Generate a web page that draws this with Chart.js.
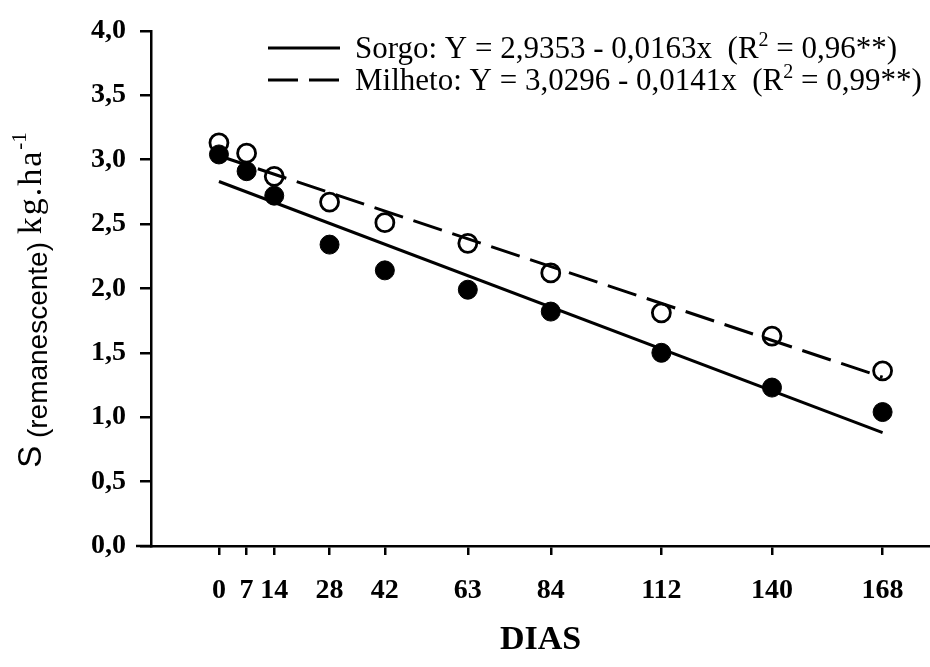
<!DOCTYPE html>
<html>
<head>
<meta charset="utf-8">
<script src="https://cdn.jsdelivr.net/npm/chart.js@4/dist/chart.umd.min.js"></script>
<style>
  html, body { margin: 0; padding: 0; background: #fff; }
</style>
</head>
<body>
<canvas id="chart" width="930" height="667"></canvas>
<script>
// Days of sampling and remaining S for each crop residue
const dias = [0, 7, 14, 28, 42, 63, 84, 112, 140, 168];
const sorgo = [3.04, 2.91, 2.72, 2.34, 2.14, 1.99, 1.82, 1.50, 1.23, 1.04];
const milheto = [3.13, 3.05, 2.87, 2.67, 2.51, 2.35, 2.12, 1.81, 1.63, 1.36];

// Fitted lines: values at the first and last day
const fitDias = [0, 168];
const sorgoFit = [2.83, 0.88];
const milhetoFit = [3.03, 1.31];

const yTicks = [0, 0.5, 1, 1.5, 2, 2.5, 3, 3.5, 4];

const legendRows = [
  { name: "Sorgo: Y = 2,9353 - 0,0163x  (R", r2: " = 0,96**)", dash: [] },
  { name: "Milheto: Y = 3,0296 - 0,0141x  (R", r2: " = 0,99**)", dash: [30, 11] }
];

const serif = "'Liberation Serif', 'Times New Roman', serif";
const sans = "'Liberation Sans', Arial, sans-serif";

function toPoints(xs, ys) {
  return xs.map((x, i) => ({ x: x, y: ys[i] }));
}

// Draws a run of text pieces, each with its own font and baseline shift
function drawPieces(ctx, pieces, x, y) {
  let cx = x;
  pieces.forEach((p) => {
    ctx.font = p.font;
    ctx.letterSpacing = p.spacing || "0px";
    ctx.fillText(p.text, cx, y + (p.dy || 0));
    cx += ctx.measureText(p.text).width;
  });
  ctx.letterSpacing = "0px";
}

function piecesWidth(ctx, pieces) {
  let w = 0;
  pieces.forEach((p) => {
    ctx.font = p.font;
    ctx.letterSpacing = p.spacing || "0px";
    w += ctx.measureText(p.text).width;
  });
  ctx.letterSpacing = "0px";
  return w;
}

const extras = {
  id: "extras",
  afterDraw(chart) {
    const ctx = chart.ctx;
    const area = chart.chartArea;
    ctx.save();
    ctx.strokeStyle = "#000";
    ctx.fillStyle = "#000";

    // x axis line runs a little past the y axis
    ctx.lineWidth = 2.5;
    ctx.beginPath();
    ctx.moveTo(136, area.bottom);
    ctx.lineTo(area.left, area.bottom);
    ctx.stroke();

    // legend
    ctx.textBaseline = "alphabetic";
    ctx.textAlign = "left";
    legendRows.forEach((row, i) => {
      const cy = 48 + i * 32;
      ctx.lineWidth = 3;
      ctx.setLineDash(row.dash);
      ctx.beginPath();
      ctx.moveTo(268, cy);
      ctx.lineTo(340, cy);
      ctx.stroke();
      ctx.setLineDash([]);
      drawPieces(ctx, [
        { text: row.name, font: "31px " + serif },
        { text: "2", font: "20px " + serif, dy: -12 },
        { text: row.r2, font: "31px " + serif }
      ], 355, cy + 10);
    });

    // y axis title, rotated
    const title = [
      { text: "S", font: "33px " + sans },
      { text: " (remanescente) ", font: "28px " + sans, dy: 6 },
      { text: "kg.ha", font: "34px " + serif, spacing: "2px" },
      { text: "-1", font: "21px " + serif, dy: -15 }
    ];
    ctx.translate(41, 300);
    ctx.rotate(-Math.PI / 2);
    drawPieces(ctx, title, -piecesWidth(ctx, title) / 2, 0);
    ctx.restore();
  }
};

const tickFont = { family: serif, size: 28, weight: "bold" };

new Chart(document.getElementById("chart"), {
  type: "scatter",
  data: {
    datasets: [
      {
        label: "Sorgo (ajuste)",
        data: toPoints(fitDias, sorgoFit),
        showLine: true,
        borderColor: "#000",
        borderWidth: 3,
        pointRadius: 0
      },
      {
        label: "Milheto (ajuste)",
        data: toPoints(fitDias, milhetoFit),
        showLine: true,
        borderColor: "#000",
        borderWidth: 3,
        borderDash: [30, 11],
        pointRadius: 0
      },
      {
        label: "Sorgo",
        data: toPoints(dias, sorgo),
        backgroundColor: "#000",
        borderColor: "#000",
        pointRadius: 9.5,
        borderWidth: 1
      },
      {
        label: "Milheto",
        data: toPoints(dias, milheto),
        backgroundColor: "#fff",
        borderColor: "#000",
        pointRadius: 9,
        borderWidth: 2.8
      }
    ]
  },
  options: {
    responsive: false,
    animation: false,
    layout: {
      autoPadding: false,
      padding: { top: 27, right: 0, bottom: 0, left: 0 }
    },
    plugins: {
      legend: { display: false },
      tooltip: { enabled: false }
    },
    scales: {
      x: {
        type: "linear",
        min: -17.2,
        max: 180,
        afterBuildTicks: (s) => { s.ticks = dias.map((v) => ({ value: v })); },
        afterFit: (s) => {
          s.height = 121;
          s.paddingLeft = 0;
          s.paddingRight = 0;
        },
        ticks: {
          autoSkip: false,
          maxRotation: 0,
          color: "#000",
          font: tickFont,
          padding: 19
        },
        grid: {
          drawOnChartArea: false,
          drawTicks: true,
          tickLength: 9,
          color: "#000",
          lineWidth: 2.5
        },
        border: { color: "#000", width: 2.5 },
        title: {
          display: true,
          text: "DIAS",
          color: "#000",
          font: { family: serif, size: 34, weight: "bold" },
          padding: { top: 0, bottom: 6 }
        }
      },
      y: {
        min: 0,
        max: 4,
        afterBuildTicks: (s) => { s.ticks = yTicks.map((v) => ({ value: v })); },
        afterFit: (s) => { s.width = 151; },
        ticks: {
          color: "#000",
          font: tickFont,
          padding: 14,
          callback: (v) => v.toFixed(1).replace(".", ",")
        },
        grid: {
          drawOnChartArea: false,
          drawTicks: true,
          tickLength: 11,
          color: "#000",
          lineWidth: 2.5
        },
        border: { color: "#000", width: 2.5 }
      }
    }
  },
  plugins: [extras]
});
</script>
</body>
</html>
